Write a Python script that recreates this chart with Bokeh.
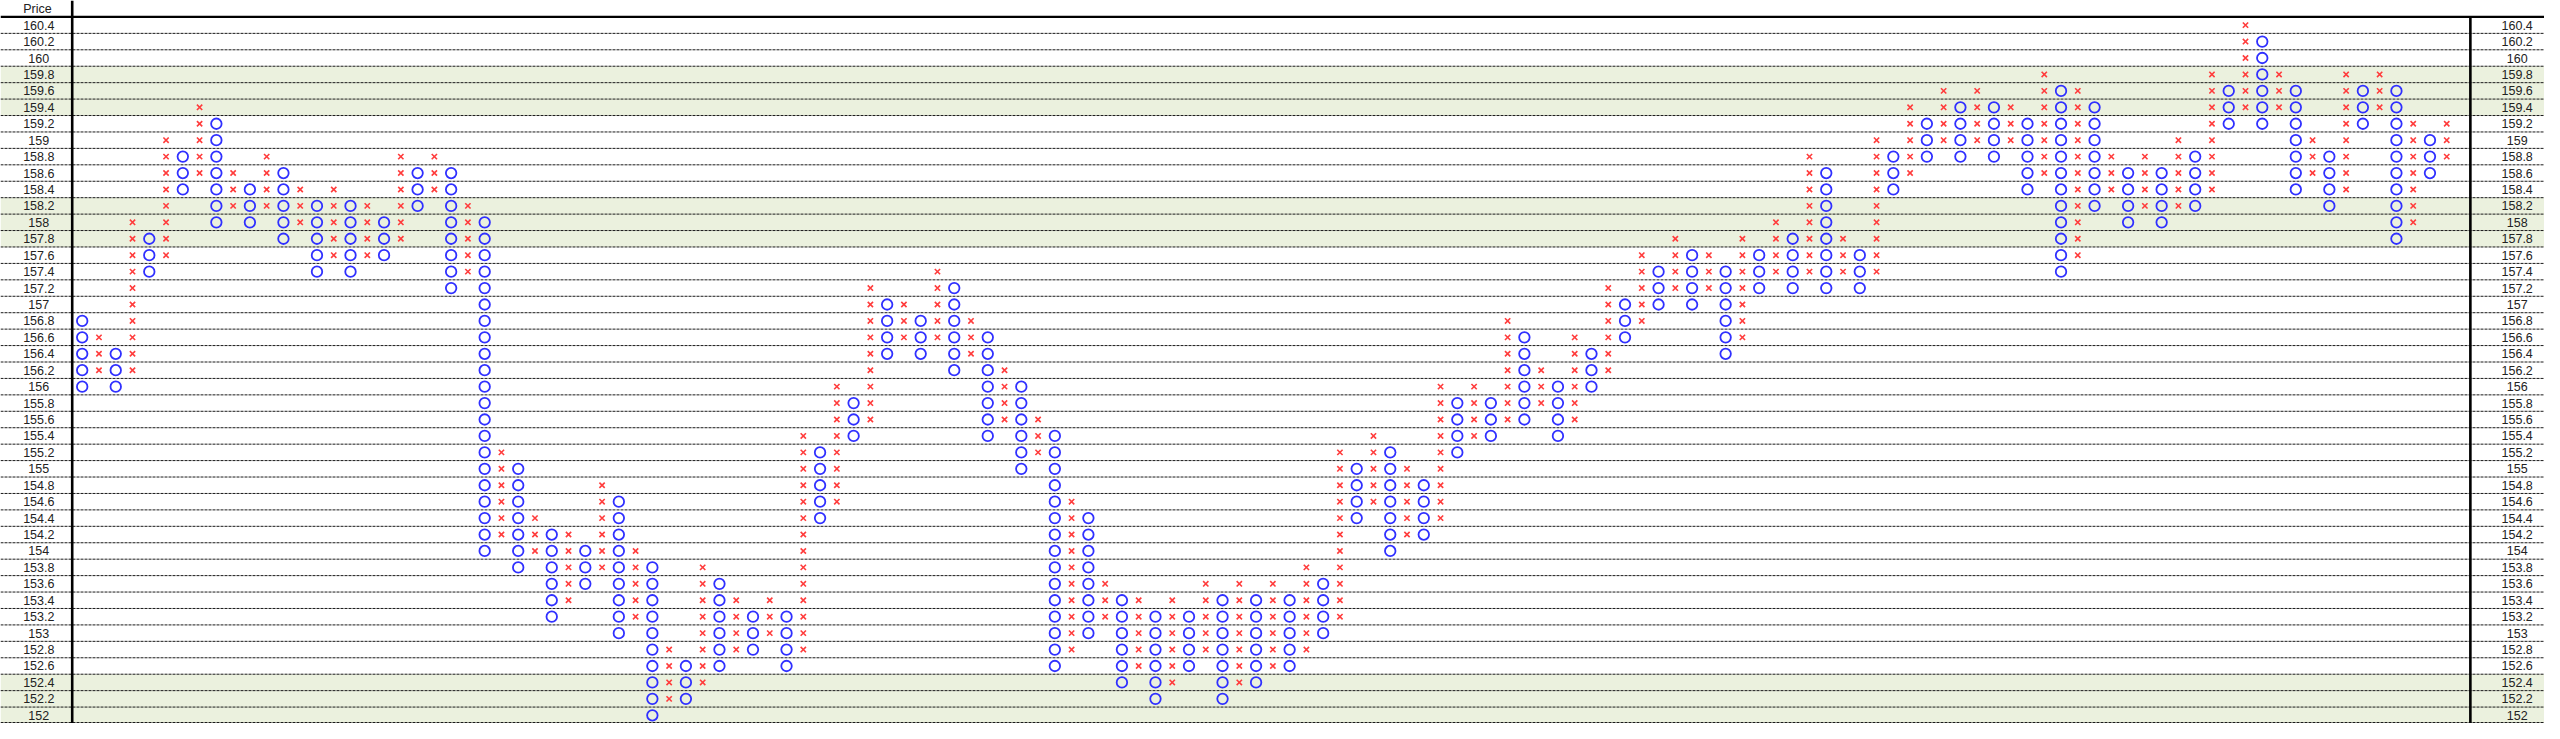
import numpy as np
from bokeh.plotting import figure
from bokeh.models import Range1d, ColumnDataSource
from bokeh.core.properties import value
from bokeh.embed import file_html
from bokeh.resources import INLINE

# ---- data: Point & Figure columns (box size 0.2) ----
col_types = list("OX" * 71)
col_high = [156.8, 156.6, 156.4, 158.0, 157.8, 159.0, 158.8, 159.4, 159.2, 158.6,
            158.4, 158.8, 158.6, 158.4, 158.2, 158.4, 158.2, 158.2, 158.0, 158.8,
            158.6, 158.8, 158.6, 158.2, 158.0, 155.2, 155.0, 154.4, 154.2, 154.2,
            154.0, 154.8, 154.6, 154.0, 153.8, 152.8, 152.6, 153.8, 153.6, 153.4,
            153.2, 153.4, 153.2, 155.4, 155.2, 156.0, 155.8, 157.2, 157.0, 157.0,
            156.8, 157.4, 157.2, 156.8, 156.6, 156.2, 156.0, 155.6, 155.4, 154.6,
            154.4, 153.6, 153.4, 153.4, 153.2, 153.4, 153.2, 153.6, 153.4, 153.6,
            153.4, 153.6, 153.4, 153.8, 153.6, 155.2, 155.0, 155.4, 155.2, 155.0,
            154.8, 156.0, 155.8, 156.0, 155.8, 156.8, 156.6, 156.2, 156.0, 156.6,
            156.4, 157.2, 157.0, 157.6, 157.4, 157.8, 157.6, 157.6, 157.4, 157.8,
            157.6, 158.0, 157.8, 158.8, 158.6, 157.8, 157.6, 159.0, 158.8, 159.4,
            159.2, 159.6, 159.4, 159.6, 159.4, 159.4, 159.2, 159.8, 159.6, 159.6,
            159.4, 158.8, 158.6, 158.8, 158.6, 159.0, 158.8, 159.8, 159.6, 160.4,
            160.2, 159.8, 159.6, 159.0, 158.8, 159.8, 159.6, 159.8, 159.6, 159.2,
            159.0, 159.2]
col_low = [156.0, 156.2, 156.0, 156.2, 157.4, 157.6, 158.4, 158.6, 158.0, 158.2,
           158.0, 158.2, 157.8, 158.0, 157.4, 157.6, 157.4, 157.6, 157.6, 157.8,
           158.2, 158.4, 157.2, 157.4, 154.0, 154.2, 153.8, 154.0, 153.2, 153.4,
           153.6, 153.8, 153.0, 153.2, 152.0, 152.2, 152.2, 152.4, 152.6, 152.8,
           152.8, 153.0, 152.6, 152.8, 154.4, 154.6, 155.4, 155.6, 156.4, 156.6,
           156.4, 156.6, 156.2, 156.4, 155.4, 155.6, 155.0, 155.2, 152.6, 152.8,
           153.0, 153.2, 152.4, 152.6, 152.2, 152.4, 152.6, 152.8, 152.2, 152.4,
           152.4, 152.6, 152.6, 152.8, 153.0, 153.2, 154.4, 154.6, 154.0, 154.2,
           154.2, 154.4, 155.2, 155.4, 155.4, 155.6, 155.6, 155.8, 155.4, 155.6,
           156.0, 156.2, 156.6, 156.8, 157.0, 157.2, 157.0, 157.2, 156.4, 156.6,
           157.2, 157.4, 157.2, 157.4, 157.2, 157.4, 157.2, 157.4, 158.4, 158.6,
           158.8, 159.0, 158.8, 159.0, 158.8, 159.0, 158.4, 158.6, 157.4, 157.6,
           158.2, 158.4, 158.0, 158.2, 158.0, 158.2, 158.2, 158.4, 159.2, 159.4,
           159.2, 159.4, 158.4, 158.6, 158.2, 158.4, 159.2, 159.4, 157.8, 158.0,
           158.6, 158.8]
price_labels = ["160.4", "160.2", "160", "159.8", "159.6", "159.4", "159.2", "159",
                "158.8", "158.6", "158.4", "158.2", "158", "157.8", "157.6", "157.4",
                "157.2", "157", "156.8", "156.6", "156.4", "156.2", "156", "155.8",
                "155.6", "155.4", "155.2", "155", "154.8", "154.6", "154.4", "154.2",
                "154", "153.8", "153.6", "153.4", "153.2", "153", "152.8", "152.6",
                "152.4", "152.2", "152"]
shaded_prices = [159.8, 159.6, 159.4, 158.2, 158.0, 157.8, 152.4, 152.2, 152.0]
header_text = "Price"
BOX = 0.2

# ---- expand columns into boxes ----
xs_x, ys_x, xs_o, ys_o = [], [], [], []
for j, (t, hi, lo) in enumerate(zip(col_types, col_high, col_low)):
    n = int(round((hi - lo) / BOX)) + 1
    ys = [round(lo + BOX * k, 1) for k in range(n)]
    if t == "X":
        xs_x += [j] * n
        ys_x += ys
    else:
        xs_o += [j] * n
        ys_o += ys

XL, XR = -4.872, 146.83
YB, YT = 151.9, 160.7
LEFT_LINE, RIGHT_LINE = -0.596, 142.41

p = figure(width=2544, height=723, x_range=Range1d(XL, XR), y_range=Range1d(YB, YT),
           output_backend="svg", toolbar_location=None, min_border=0,
           x_axis_location=None, y_axis_location=None)
p.xgrid.visible = False
p.ygrid.visible = False
p.outline_line_color = None
p.background_fill_color = "white"

# shaded rows
p.hbar(y=shaded_prices, height=BOX, left=XL, right=XR, fill_color="#EBF1DE", line_color=None)

# dashed row separators
prices = [float(s) for s in price_labels]
seps = [pr - BOX / 2 for pr in prices[:-1]] + [YB + 0.012]
p.segment(x0=XL, x1=XR, y0=seps, y1=seps, line_color="#1a1a1a", line_width=1, line_dash="3 1")

# header line and vertical thick lines
p.segment(x0=XL, x1=XR, y0=prices[0] + BOX / 2, y1=prices[0] + BOX / 2, line_color="black", line_width=2.2)
p.segment(x0=LEFT_LINE, x1=LEFT_LINE, y0=YB, y1=YT, line_color="black", line_width=2.6)
p.segment(x0=RIGHT_LINE, x1=RIGHT_LINE, y0=YB, y1=prices[0] + BOX / 2, line_color="black", line_width=2.6)

# price labels
font = value("Liberation Sans")
p.text(x=[-2.59] * len(prices), y=prices, text=price_labels, text_font=font,
       text_font_size="12.5px", text_align="center", text_baseline="middle", text_color="#222222")
p.text(x=[145.2] * len(prices), y=prices, text=price_labels, text_font=font,
       text_font_size="12.5px", text_align="center", text_baseline="middle", text_color="#222222")
p.text(x=[-2.665], y=[YT - (YT - prices[0] - BOX / 2) / 2], text=[header_text], text_font=font,
       text_font_size="12.5px", text_align="center", text_baseline="middle", text_color="#222222")

# X and O marks
p.scatter(x=xs_x, y=ys_x, marker="x", size=7.5, line_color="#FF3C3C", line_width=1.6)
p.scatter(x=xs_o, y=ys_o, marker="circle", size=10.5, fill_color=None, line_color="#3030FF", line_width=1.8)

open("out.html", "w").write(file_html(p, INLINE))
